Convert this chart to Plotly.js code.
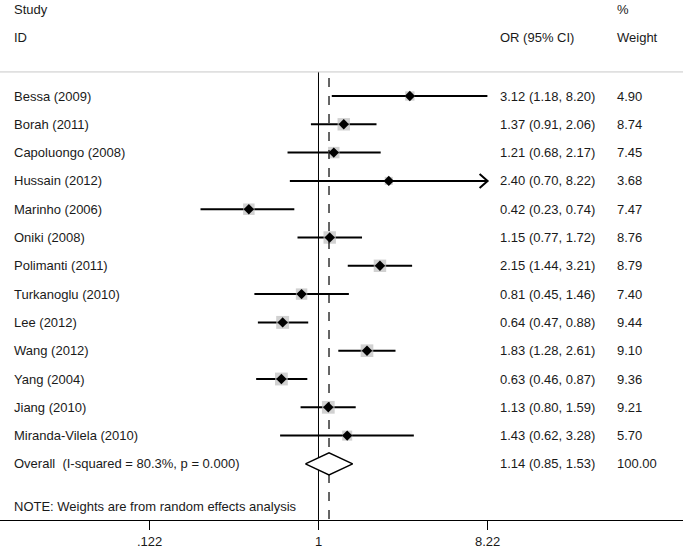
<!DOCTYPE html>
<html>
<head>
<meta charset="utf-8">
<script src="https://cdn.plot.ly/plotly-3.0.1.min.js"></script>
<style>html,body{margin:0;padding:0;background:#fff;}#chart{width:683px;height:552px;}</style>
</head>
<body>
<div id="chart"></div>
<script>
// ---- data ----
const studies = ["Bessa (2009)", "Borah (2011)", "Capoluongo (2008)", "Hussain (2012)", "Marinho (2006)",
  "Oniki (2008)", "Polimanti (2011)", "Turkanoglu (2010)", "Lee (2012)", "Wang (2012)", "Yang (2004)",
  "Jiang (2010)", "Miranda-Vilela (2010)"];
const orVals = [3.12, 1.37, 1.21, 2.40, 0.42, 1.15, 2.15, 0.81, 0.64, 1.83, 0.63, 1.13, 1.43];
const ciLow  = [1.18, 0.91, 0.68, 0.70, 0.23, 0.77, 1.44, 0.45, 0.47, 1.28, 0.46, 0.80, 0.62];
const ciHigh = [8.20, 2.06, 2.17, 8.22, 0.74, 1.72, 3.21, 1.46, 0.88, 2.61, 0.87, 1.59, 3.28];
const weights = [4.90, 8.74, 7.45, 3.68, 7.47, 8.76, 8.79, 7.40, 9.44, 9.10, 9.36, 9.21, 5.70];
const overallLabel = "Overall\u00a0\u00a0(I-squared = 80.3%, p = 0.000)";
const overall = {or: 1.14, lo: 0.85, hi: 1.53, weight: 100.00};
const noteText = "NOTE: Weights are from random effects analysis";
const tickVals = [0.122, 1, 8.22];
const tickText = [".122", "1", "8.22"];
const axisMax = 8.22; // CI truncated (arrow) at this value

// ---- layout helpers ----
const FONT = {family: "Liberation Sans, Arial, sans-serif", size: 13, color: "#1a1a1a"};
const n = studies.length;
const rows = studies.map((_, i) => i + 1);
const overallRow = n + 1;
const noteRow = n + 2.52;
const pxPerLn = 80.28, pxPerRow = 28.3;

const traces = [];
// CI lines
for (let i = 0; i < n; i++) {
  traces.push({type: "scatter", mode: "lines", x: [ciLow[i], ciHigh[i]], y: [rows[i], rows[i]],
    line: {color: "#000", width: 2}, hoverinfo: "skip", showlegend: false});
  if (ciHigh[i] >= axisMax) {
    const dx = Math.exp(-8 / pxPerLn), dy = 7 / pxPerRow;
    traces.push({type: "scatter", mode: "lines",
      x: [ciHigh[i] * dx, ciHigh[i], ciHigh[i] * dx], y: [rows[i] - dy, rows[i], rows[i] + dy],
      line: {color: "#000", width: 2}, hoverinfo: "skip", showlegend: false});
  }
}
// weight boxes
traces.push({type: "scatter", mode: "markers", x: orVals, y: rows,
  marker: {symbol: "square", color: "#bdbdbd", size: weights.map(w => 4.2 * Math.sqrt(w)), line: {width: 0}},
  hoverinfo: "skip", showlegend: false});
// point estimates
traces.push({type: "scatter", mode: "markers", x: orVals, y: rows,
  marker: {symbol: "diamond", color: "#000", size: 8}, hoverinfo: "skip", showlegend: false});
// null line and overall dashed line
traces.push({type: "scatter", mode: "lines", x: [1, 1], y: [0.15, 15.98],
  line: {color: "#000", width: 1}, hoverinfo: "skip", showlegend: false});
traces.push({type: "scatter", mode: "lines", x: [overall.or, overall.or], y: [0.36, 15.98],
  line: {color: "#000", width: 1.2, dash: "dash"}, hoverinfo: "skip", showlegend: false});
// overall diamond
const h = 11 / pxPerRow;
traces.push({type: "scatter", mode: "lines",
  x: [overall.lo, overall.or, overall.hi, overall.or, overall.lo],
  y: [overallRow, overallRow - h, overallRow, overallRow + h, overallRow],
  line: {color: "#000", width: 1.5}, fill: "toself", fillcolor: "#fff", hoverinfo: "skip", showlegend: false});

// text annotations
const xLeft = 12 / 683, xOR = 498 / 683, xW = 615 / 683;
const ann = [];
function txt(x, y, t) {
  ann.push({xref: "paper", yref: "y", x: x, y: y, text: t, showarrow: false, xanchor: "left", yanchor: "middle", font: FONT});
}
txt(xLeft, -2.04, "Study");
txt(xLeft, -1.08, "ID");
txt(xOR, -1.08, "OR (95% CI)");
txt(xW, -2.04, "%");
txt(xW, -1.08, "Weight");
for (let i = 0; i < n; i++) {
  txt(xLeft, rows[i], studies[i]);
  txt(xOR, rows[i], orVals[i].toFixed(2) + " (" + ciLow[i].toFixed(2) + ", " + ciHigh[i].toFixed(2) + ")");
  txt(xW, rows[i], weights[i].toFixed(2));
}
txt(xLeft, overallRow, overallLabel);
txt(xOR, overallRow, overall.or.toFixed(2) + " (" + overall.lo.toFixed(2) + ", " + overall.hi.toFixed(2) + ")");
txt(xW, overallRow, overall.weight.toFixed(2));
txt(xLeft, noteRow, noteText);

const layout = {
  width: 683, height: 552,
  margin: {l: 0, r: 0, t: 0, b: 32, pad: 0},
  paper_bgcolor: "#fff", plot_bgcolor: "#fff",
  showlegend: false,
  font: FONT,
  xaxis: {type: "log", range: [-1.723, 1.972], showgrid: false, zeroline: false,
    showline: true, linecolor: "#000", linewidth: 1, ticks: "outside", ticklen: 9, tickcolor: "#000",
    tickvals: tickVals, ticktext: tickText, tickfont: FONT, fixedrange: true},
  yaxis: {range: [15.982, -2.392], visible: false, fixedrange: true},
  shapes: [{type: "line", xref: "paper", yref: "y", x0: 0, x1: 1, y0: 0.15, y1: 0.15,
    line: {color: "#c8c8c8", width: 1}}],
  annotations: ann
};
Plotly.newPlot("chart", traces, layout, {displayModeBar: false, staticPlot: true});
</script>
</body>
</html>
